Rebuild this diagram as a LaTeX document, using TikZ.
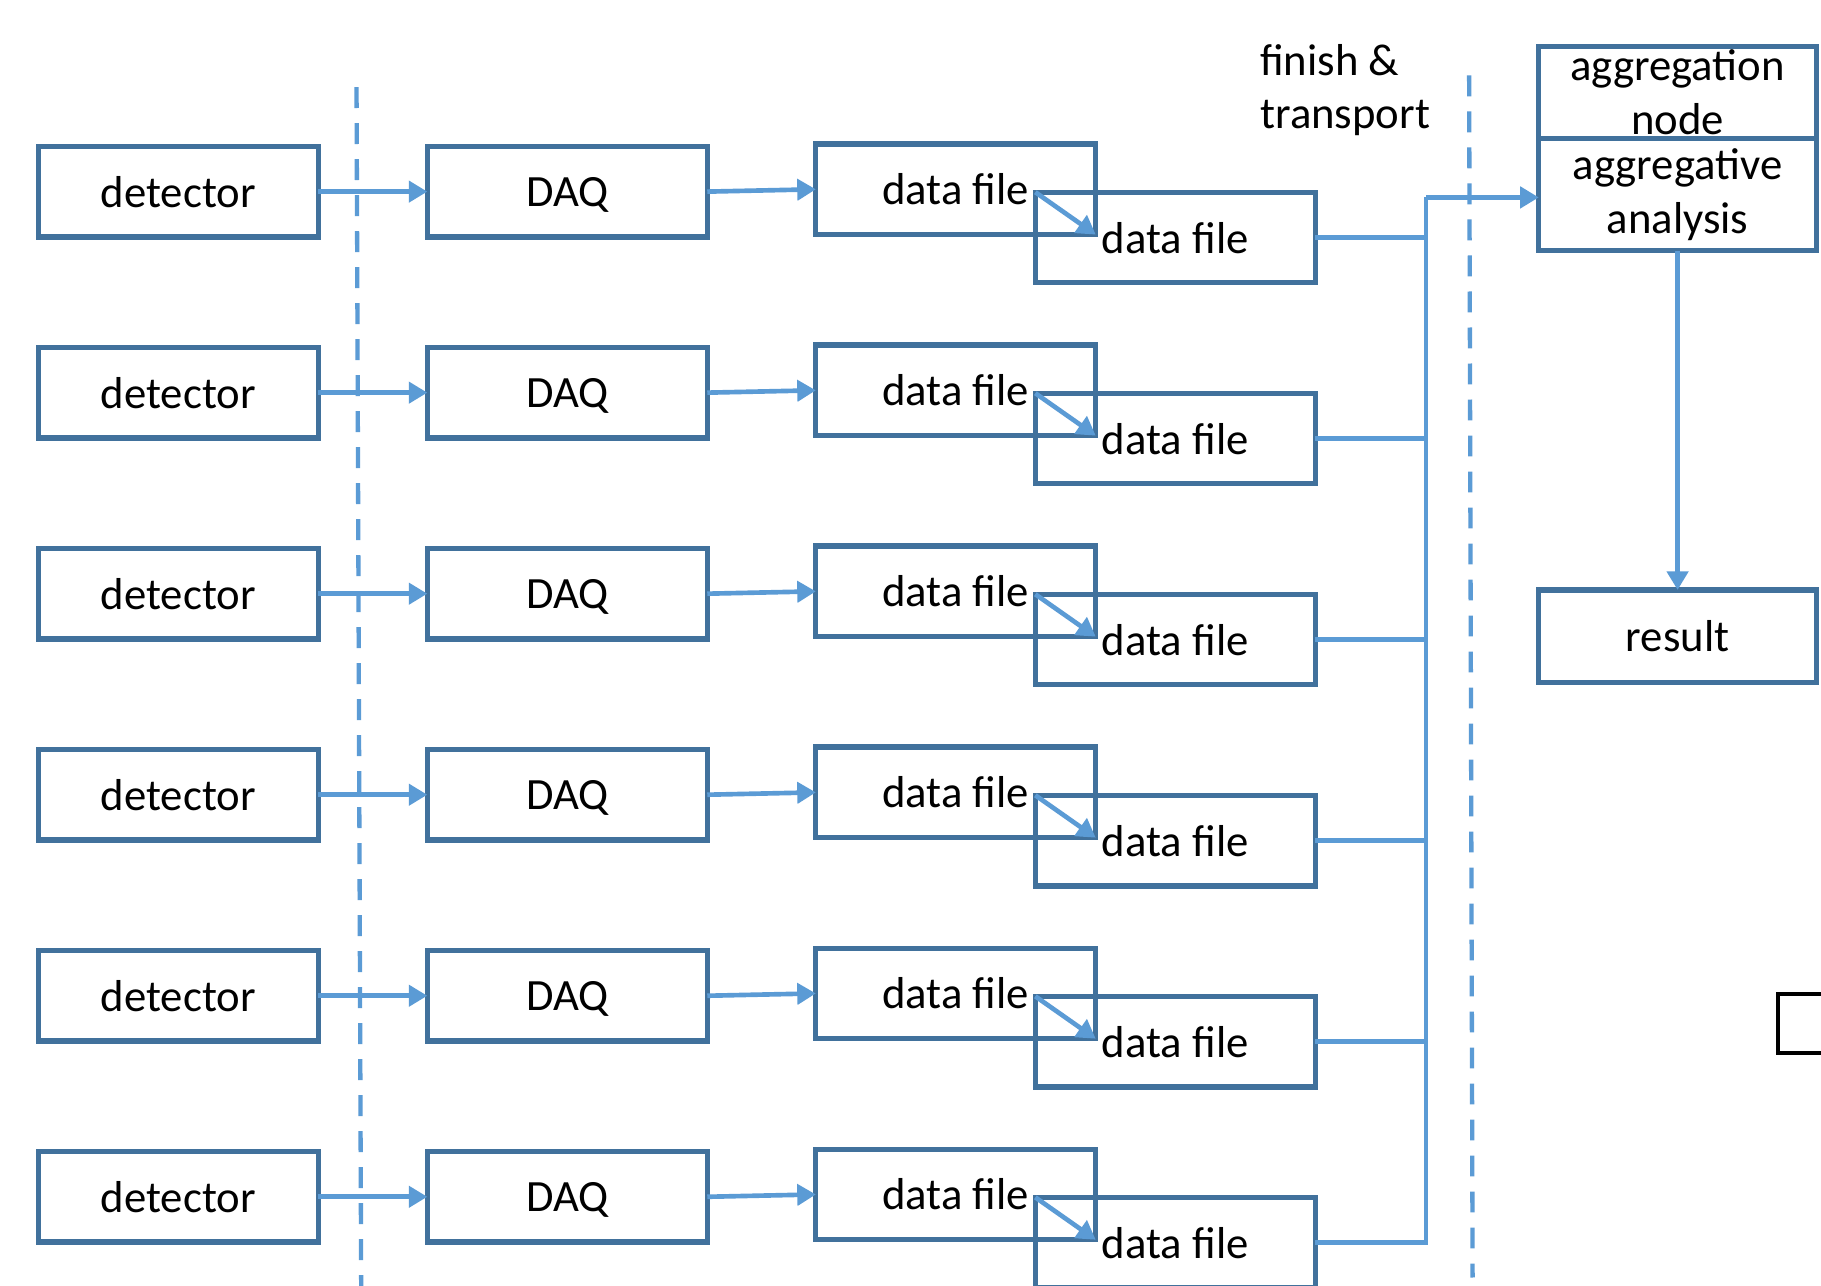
\documentclass[tikz,border=0pt]{standalone}
\usepackage{fontspec}
\setmainfont{Carlito}
\usetikzlibrary{arrows.meta}
\definecolor{boxc}{HTML}{41719C}
\definecolor{linec}{HTML}{5B9BD5}
\newcommand{\dgfont}{\fontsize{38.5}{46}\selectfont}
\begin{document}
\begin{tikzpicture}[x=1pt,y=-1pt,
  box/.style={draw=boxc, line width=4.5pt, minimum width=241pt, minimum height=78pt, inner sep=0pt, outer sep=0pt, font=\dgfont, text depth=0pt},
  conn/.style={draw=linec, line width=4pt},
  arr/.style={conn, -{Triangle[length=16pt,width=18pt]}},
  sepline/.style={draw=linec, line width=3.7pt, dash pattern=on 18pt off 13pt}
]
\useasboundingbox (0,0) rectangle (1568,1107);
\clip (0,0) rectangle (1568,1107);
\fill[white] (0,0) rectangle (1568,1107);

\coordinate (bustop) at (1228,170);

% dashed separators
\coordinate (s1a) at (307,75);
\coordinate (s1b) at (311,1110);
\coordinate (s2a) at (1265,65);
\coordinate (s2b) at (1268,1100);
\draw[sepline] (s1a) -- (s1b);
\draw[sepline] (s2a) -- (s2b);

\foreach \i in {1,...,6} {
  \pgfmathsetmacro\yy{165+173.1*(\i-1)}
  \node[box] (det-\i) at (153.5,\yy) {detector};
  \node[box] (daq-\i) at (488.5,\yy) {DAQ};
  \node[box] (dfa-\i) at (823,\yy-2) {data file};
  \node[box] (dfb-\i) at (1012,\yy+39.5) {data file};
  \draw[arr] (det-\i.east) -- (daq-\i.west);
  \draw[arr] (daq-\i.east) -- (dfa-\i.west);
  \draw[arr] (dfb-\i.north west) -- (dfa-\i.south east);
  \draw[conn] (dfb-\i.east) -- (dfb-\i.east -| bustop);
}

% aggregation node
\node[box, minimum width=239pt, minimum height=79pt,
  label={[font=\dgfont, align=center, inner sep=0pt]center:{aggregation\\node}}] (agg) at (1444.5,79.5) {};
\node[box, minimum width=239pt, minimum height=97pt,
  label={[font=\dgfont, align=center, inner sep=0pt]center:{aggregative\\analysis}}] (ana) at (1444.5,167.5) {};
\node[box, minimum width=239pt, minimum height=80pt] (res) at (1444.5,548) {result};

\draw[conn] (dfb-6.east) -| (bustop);
\draw[arr] (bustop) -- (bustop -| ana.west);
\draw[arr] (ana.south) -- (res.north);

\node[font=\dgfont, align=left, anchor=north west, inner sep=0pt] (fin) at (1085,38) {finish \&\\transport};

\node[draw=black, line width=3.5pt, minimum width=60pt, minimum height=51pt, anchor=north west, inner sep=0pt] (blk) at (1529,854) {};
\end{tikzpicture}
\end{document}
